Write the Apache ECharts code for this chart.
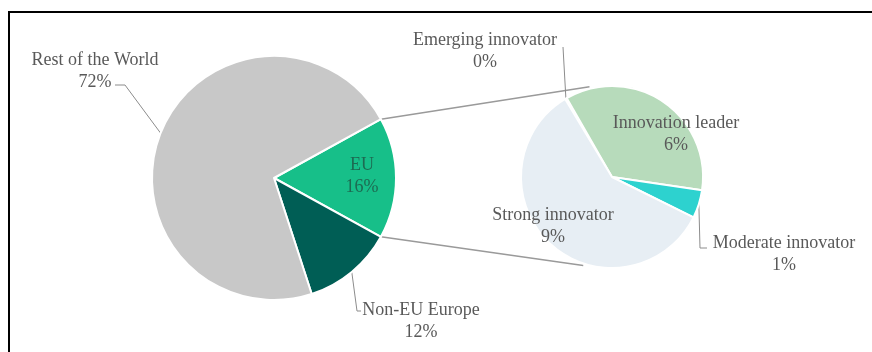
<!DOCTYPE html>
<html>
<head>
<meta charset="utf-8">
<script src="https://cdn.jsdelivr.net/npm/echarts@6/dist/echarts.min.js"></script>
<style>
  html, body { margin: 0; padding: 0; background: #fff; }
  #main { width: 872px; height: 352px; }
</style>
</head>
<body>
<div id="main"></div>
<script>
// share of world (%)
const worldNames = ['EU', 'Non-EU Europe', 'Rest of the World']
const worldValues = [16, 12, 72]

// EU split by innovation group (% of world)
const euNames = ['Emerging innovator', 'Innovation leader', 'Moderate innovator', 'Strong innovator']
const euValues = [0.05, 5.7, 0.8, 9.45]

const worldColors = ['#17bf89', '#005e55', '#c8c8c8']
const euColors = ['#dfe8df', '#b7dbbb', '#2dd2cf', '#e7eef4']

// pie geometry
const leftCenter = [274, 178]
const leftR = 122
const rightCenter = [612, 177]
const rightR = 91
const leftStart = 28.8
const rightStart = 121

const textColor = '#595959'
const font = 'Liberation Serif'

// label centres / leader lines per slice
const leftLabels = [
  { x: 362, y: 176, inside: true },
  { x: 421, y: 321, elbow: [[357, 311], [361, 311]] },
  { x: 95, y: 71, elbow: [[125, 85], [115, 85]] }
]
const rightLabels = [
  { x: 485, y: 51, elbow: [[563, 47], [563, 47]] },
  { x: 676, y: 134, inside: true },
  { x: 784, y: 254, elbow: [[700, 248], [707, 248]] },
  { x: 553, y: 226, inside: true }
]

function pt(c, r, deg) {
  const a = deg * Math.PI / 180
  return [c[0] + r * Math.cos(a), c[1] - r * Math.sin(a)]
}

const euHalf = worldValues[0] / 100 * 360 / 2
const p1 = pt(leftCenter, leftR, leftStart)
const p2 = pt(leftCenter, leftR, leftStart - 2 * euHalf)
const q1 = pt(rightCenter, rightR + 2, 104)
const q2 = pt(rightCenter, rightR + 2, -108)

function buildData(names, values, colors, labels) {
  return names.map((n, i) => ({
    name: n,
    value: values[i],
    itemStyle: { color: colors[i] },
    label: labels[i].inside && i === 0 && names === worldNames ? { color: '#1d6b52' } : {},
    labelLine: { show: !labels[i].inside }
  }))
}

function makeLayout(labels) {
  return function (params) {
    const l = labels[params.dataIndex]
    const out = { x: l.x, y: l.y, align: 'center', verticalAlign: 'middle' }
    if (!l.inside && params.labelLinePoints) {
      out.labelLinePoints = [params.labelLinePoints[0], l.elbow[0], l.elbow[1]]
    }
    return out
  }
}

const labelStyle = {
  show: true,
  position: 'outside',
  fontFamily: font,
  fontSize: 18,
  lineHeight: 22,
  color: textColor,
  formatter: (p) => `${p.name}\n${Math.round(p.value)}%`
}

const myChart = echarts.init(document.getElementById('main'))

myChart.setOption({
  animation: false,
  graphic: [
    {
      type: 'rect',
      shape: { x: 9, y: 12, width: 900, height: 400 },
      style: { fill: 'none', stroke: '#000', lineWidth: 2 },
      z: 10
    },
    {
      type: 'line',
      shape: { x1: p1[0], y1: p1[1], x2: q1[0], y2: q1[1] },
      style: { stroke: '#9a9a9a', lineWidth: 1.5 },
      z: -1
    },
    {
      type: 'line',
      shape: { x1: p2[0], y1: p2[1], x2: q2[0], y2: q2[1] },
      style: { stroke: '#9a9a9a', lineWidth: 1.5 },
      z: -1
    }
  ],
  series: [
    {
      type: 'pie',
      center: leftCenter,
      radius: leftR,
      startAngle: leftStart,
      avoidLabelOverlap: false,
      itemStyle: { borderColor: '#fff', borderWidth: 2 },
      label: labelStyle,
      labelLine: { lineStyle: { color: '#8c8c8c', width: 1 } },
      labelLayout: makeLayout(leftLabels),
      data: buildData(worldNames, worldValues, worldColors, leftLabels)
    },
    {
      type: 'pie',
      center: rightCenter,
      radius: rightR,
      startAngle: rightStart,
      avoidLabelOverlap: false,
      itemStyle: { borderColor: '#fff', borderWidth: 2 },
      label: labelStyle,
      labelLine: { lineStyle: { color: '#8c8c8c', width: 1 } },
      labelLayout: makeLayout(rightLabels),
      data: buildData(euNames, euValues, euColors, rightLabels)
    }
  ]
})
</script>
</body>
</html>
